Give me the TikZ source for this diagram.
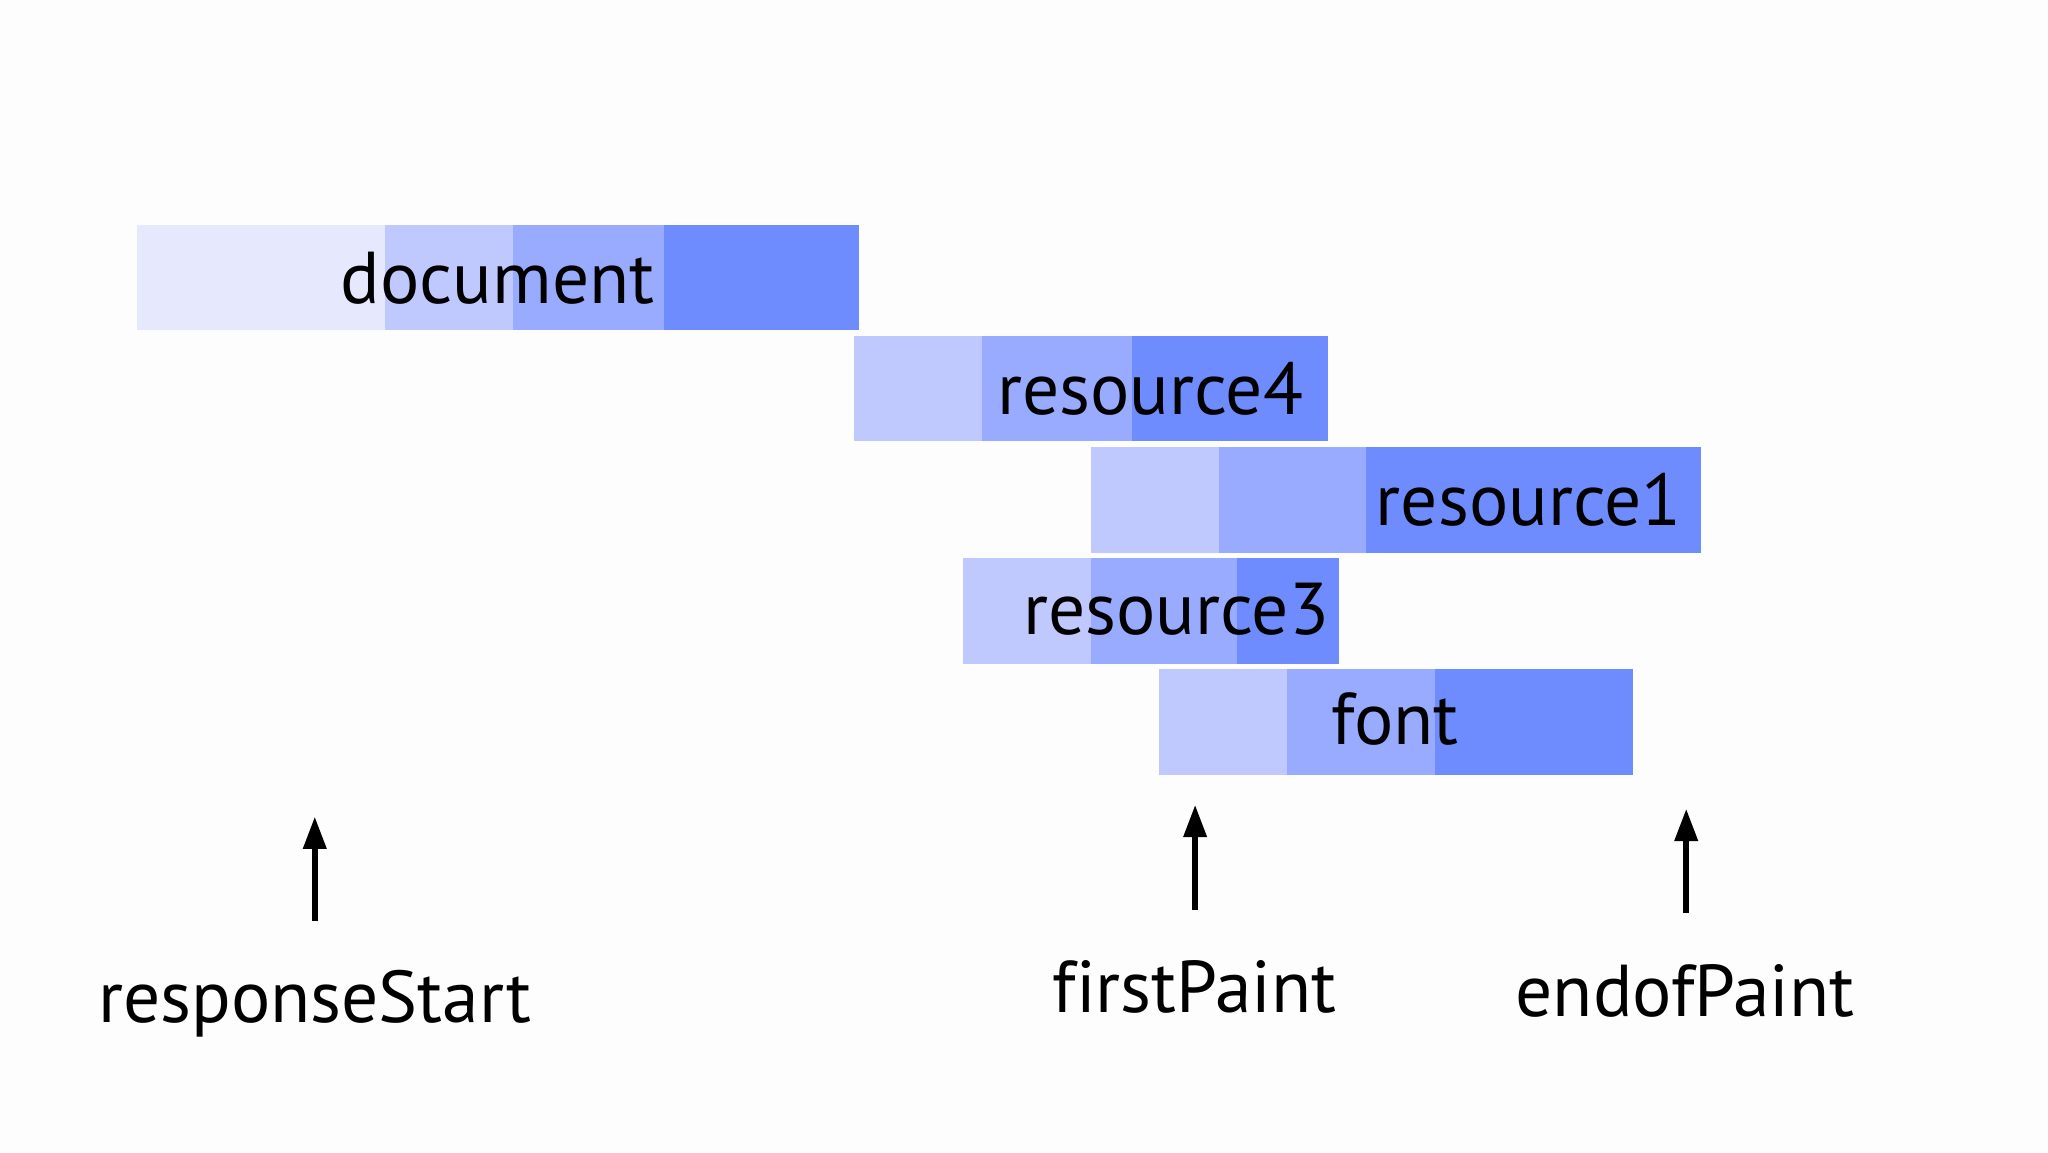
\documentclass[tikz,border=0pt]{standalone}
\usepackage{fontspec}
\setmainfont[Ligatures=NoCommon]{PT Sans}
\usetikzlibrary{arrows.meta,positioning}
\definecolor{wbg}{HTML}{FDFDFE}
\definecolor{wq0}{HTML}{E6E8FE}
\definecolor{wq1}{HTML}{C0C9FE}
\definecolor{wq2}{HTML}{98ABFE}
\definecolor{wq3}{HTML}{6F8CFE}

\begin{document}
\begin{tikzpicture}[
  font=\fontsize{16}{19}\selectfont,
  q0/.style={fill=wq0},
  q1/.style={fill=wq1},
  q2/.style={fill=wq2},
  q3/.style={fill=wq3},
  lbl/.style={anchor=base,inner sep=0pt,text=black},
  a/.style={-{Triangle[length=2.5mm,width=1.7mm]},draw=black,line width=1.4pt}]

\fill[wbg] (0,0) rectangle (15.68,8.82);
\useasboundingbox (0,0) rectangle (15.68,8.82);

% ------------------------------ bars --------------------------------------
% document
\fill[q0] (1.05,7.10) rectangle (2.95,6.29);
\fill[q1] (2.95,7.10) rectangle (3.93,6.29);
\fill[q2] (3.93,7.10) rectangle (5.08,6.29);
\fill[q3] (5.08,7.10) rectangle (6.58,6.29);
\node[lbl] (doc) at (3.81,6.50) {document};

% resource4
\fill[q1] (6.54,6.25) rectangle (7.52,5.44);
\fill[q2] (7.52,6.25) rectangle (8.67,5.44);
\fill[q3] (8.67,6.25) rectangle (10.17,5.44);
\node[lbl] (r4) at (8.805,5.65) {resource4};

% resource1
\fill[q1] (8.35,5.40) rectangle (9.33,4.59);
\fill[q2] (9.33,5.40) rectangle (10.46,4.59);
\fill[q3] (10.46,5.40) rectangle (13.02,4.59);
\node[lbl] (r1) at (11.705,4.80) {resource1};

% resource3
\fill[q1] (7.37,4.55) rectangle (8.35,3.74);
\fill[q2] (8.35,4.55) rectangle (9.47,3.74);
\fill[q3] (9.47,4.55) rectangle (10.25,3.74);
\node[lbl] (r3) at (9.005,3.96) {resource3};

% font
\fill[q1] (8.87,3.70) rectangle (9.85,2.89);
\fill[q2] (9.85,3.70) rectangle (10.99,2.89);
\fill[q3] (10.99,3.70) rectangle (12.50,2.89);
\node[lbl] (fnt) at (10.68,3.12) {font};

% ---------------------------- markers -------------------------------------
\node[lbl] (rs) at (2.41,0.99) {responseStart};
\node[lbl] (fp) at (9.145,1.07) {firstPaint};
\node[lbl] (ep) at (12.90,1.04) {endofPaint};

\coordinate (rsb) at (2.41,1.77);
\coordinate (rst) at (2.41,2.57);
\coordinate (fpb) at (9.15,1.85);
\coordinate (fpt) at (9.15,2.66);
\coordinate (epb) at (12.91,1.83);
\coordinate (ept) at (12.91,2.63);
\draw[a] (rsb) -- (rst);
\draw[a] (fpb) -- (fpt);
\draw[a] (epb) -- (ept);
\end{tikzpicture}
\end{document}
